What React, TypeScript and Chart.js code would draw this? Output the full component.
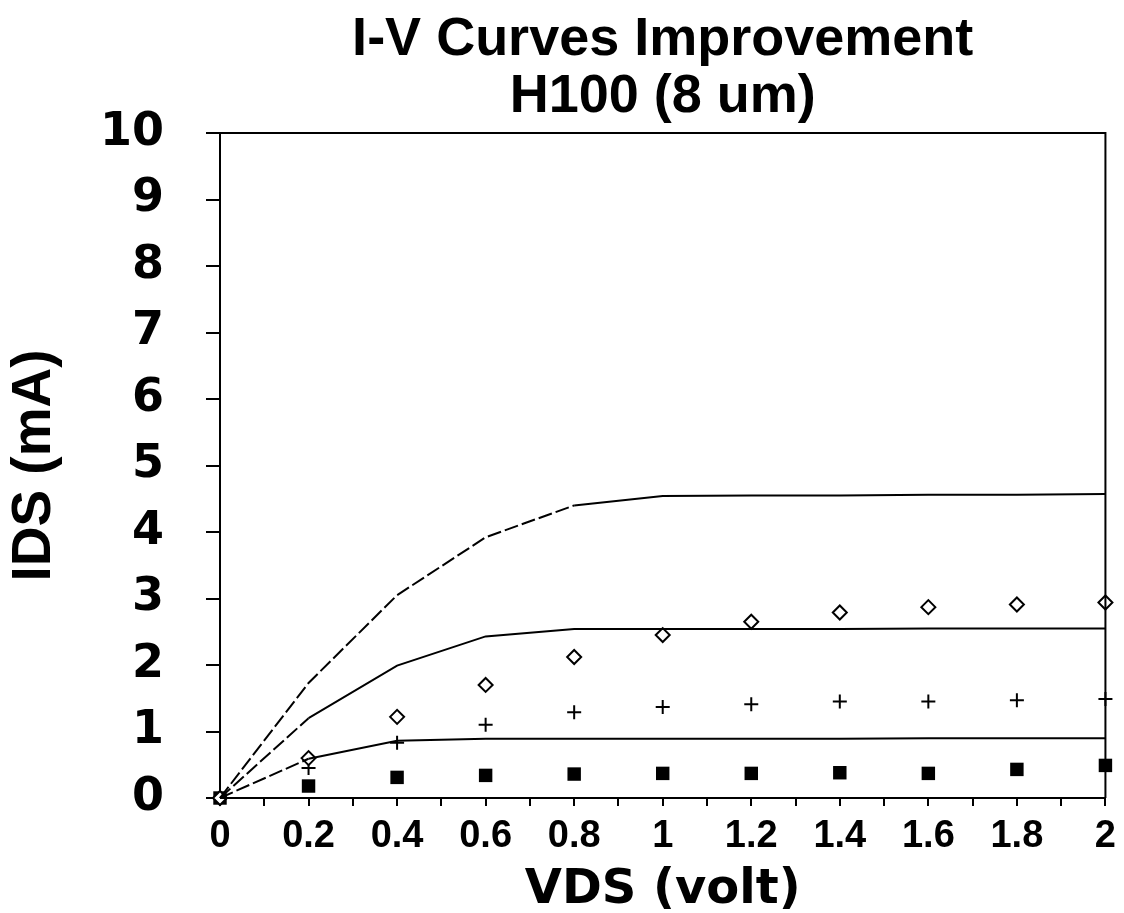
import React, { useEffect, useRef } from 'react';
import { Chart, registerables } from 'chart.js';

Chart.register(...registerables);

// ---- data ----
const vds = [0, 0.2, 0.4, 0.6, 0.8, 1.0, 1.2, 1.4, 1.6, 1.8, 2.0];
const modelHigh = [0, 1.73, 3.05, 3.92, 4.4, 4.54, 4.55, 4.55, 4.56, 4.56, 4.57];
const modelMid = [0, 1.2, 1.99, 2.43, 2.54, 2.54, 2.54, 2.54, 2.55, 2.55, 2.55];
const modelLow = [0, 0.59, 0.86, 0.89, 0.89, 0.89, 0.89, 0.89, 0.9, 0.9, 0.9];
const modelZero = [0, 0, 0, 0, 0, 0, 0, 0, 0, 0, 0];
const measDiamond = [0, 0.6, 1.22, 1.7, 2.12, 2.45, 2.65, 2.79, 2.87, 2.91, 2.94];
const measPlus = [0, 0.45, 0.83, 1.1, 1.29, 1.37, 1.41, 1.45, 1.45, 1.47, 1.49];
const measSquare = [0, 0.18, 0.31, 0.34, 0.36, 0.37, 0.37, 0.38, 0.37, 0.43, 0.49];

const xTickLabels = ['0', '0.2', '0.4', '0.6', '0.8', '1', '1.2', '1.4', '1.6', '1.8', '2'];
const yTickLabels = ['0', '1', '2', '3', '4', '5', '6', '7', '8', '9', '10'];
const titleLines = ['I-V Curves Improvement', 'H100 (8 um)'];
const xAxisTitle = 'VDS (volt)';
const yAxisTitle = 'IDS (mA)';

const toPoints = (ys: number[]) => vds.map((x, i) => ({ x, y: ys[i] }));

const frameBox = {
  id: 'frameBox',
  afterDatasetsDraw(chart: any) {
    const { ctx, chartArea } = chart;
    ctx.save();
    ctx.strokeStyle = '#000';
    ctx.lineWidth = 2;
    ctx.beginPath();
    ctx.moveTo(chartArea.left, chartArea.top);
    ctx.lineTo(chartArea.right, chartArea.top);
    ctx.lineTo(chartArea.right, chartArea.bottom);
    ctx.stroke();
    ctx.restore();
  },
};

export default function App() {
  const ref = useRef<HTMLCanvasElement | null>(null);

  useEffect(() => {
    if (!ref.current) return;
    const lineDs = (label: string, ys: number[], dashUntil: number) => ({
      label,
      data: toPoints(ys),
      showLine: true,
      borderColor: '#000',
      borderWidth: 2,
      pointRadius: 0,
      fill: false,
      tension: 0,
      clip: false,
      segment: {
        borderDash: (c: any) => (c.p0.parsed.x < dashUntil ? [14, 4] : undefined),
      },
    });
    const chart = new Chart(ref.current, {
      type: 'scatter',
      data: {
        datasets: [
          lineDs('Model high', modelHigh, 0.75),
          lineDs('Model mid', modelMid, 0.15),
          lineDs('Model low', modelLow, 0.15),
          lineDs('Model zero', modelZero, -1),
          {
            label: 'Measured diamond',
            data: toPoints(measDiamond),
            showLine: false,
            pointStyle: 'rectRot',
            pointRadius: 7,
            pointBackgroundColor: '#fff',
            pointBorderColor: '#000',
            pointBorderWidth: 2,
            clip: false,
          },
          {
            label: 'Measured plus',
            data: toPoints(measPlus),
            showLine: false,
            pointStyle: 'cross',
            pointRadius: 7,
            pointBorderColor: '#000',
            pointBorderWidth: 2,
            clip: false,
          },
          {
            label: 'Measured square',
            data: toPoints(measSquare),
            showLine: false,
            pointStyle: 'rect',
            pointRadius: 9.5,
            pointBackgroundColor: '#000',
            pointBorderColor: '#000',
            pointBorderWidth: 0,
            clip: false,
          },
        ],
      },
      options: {
        responsive: false,
        animation: false,
        devicePixelRatio: 1,
        layout: { padding: { left: 0, right: 18, top: 0, bottom: 0 } },
        plugins: {
          legend: { display: false },
          tooltip: { enabled: false },
          title: {
            display: true,
            text: titleLines,
            fullSize: false,
            color: '#000',
            font: { family: 'Liberation Sans', size: 54, weight: 'bold', lineHeight: 1.05 },
            padding: { top: 12, bottom: 7.6 },
          },
        },
        scales: {
          x: {
            type: 'linear',
            min: 0,
            max: 2,
            afterFit: (s: any) => {
              s.height = 115;
            },
            ticks: {
              stepSize: 0.1,
              autoSkip: false,
              maxRotation: 0,
              padding: 8,
              color: '#000',
              font: { family: 'Liberation Sans', size: 38, weight: 'bold', lineHeight: 1.2 },
              callback: (v: any) => {
                const k = Math.round(Number(v) * 10);
                return k % 2 === 0 ? xTickLabels[k / 2] : '';
              },
            },
            grid: { drawOnChartArea: false, drawTicks: true, tickLength: 8, color: '#000', lineWidth: 2 },
            border: { display: true, color: '#000', width: 2 },
            title: {
              display: true,
              text: xAxisTitle,
              color: '#000',
              font: { family: 'DejaVu Sans', size: 48, weight: 'bold', lineHeight: 0.95 },
              padding: { top: 0, bottom: 0 },
            },
          },
          y: {
            type: 'linear',
            min: 0,
            max: 10,
            afterFit: (s: any) => {
              s.width = 220;
            },
            ticks: {
              stepSize: 1,
              padding: 42,
              color: '#000',
              font: { family: 'DejaVu Sans', size: 46, weight: 'bold', lineHeight: 1.2 },
              callback: (v: any) => yTickLabels[Math.round(Number(v))],
            },
            grid: { drawOnChartArea: false, drawTicks: true, tickLength: 14, color: '#000', lineWidth: 2 },
            border: { display: true, color: '#000', width: 2 },
            title: {
              display: true,
              text: yAxisTitle,
              color: '#000',
              font: { family: 'Liberation Sans', size: 55, weight: 'bold', lineHeight: 1 },
              padding: { top: 7.5, bottom: 0 },
            },
          },
        },
      },
      plugins: [frameBox],
    } as any);
    return () => chart.destroy();
  }, []);

  return (
    <div style={{ position: 'fixed', left: 0, top: 0, width: 1124, height: 913, background: '#fff' }}>
      <canvas ref={ref} width={1124} height={913} style={{ display: 'block', width: 1124, height: 913 }} />
    </div>
  );
}
